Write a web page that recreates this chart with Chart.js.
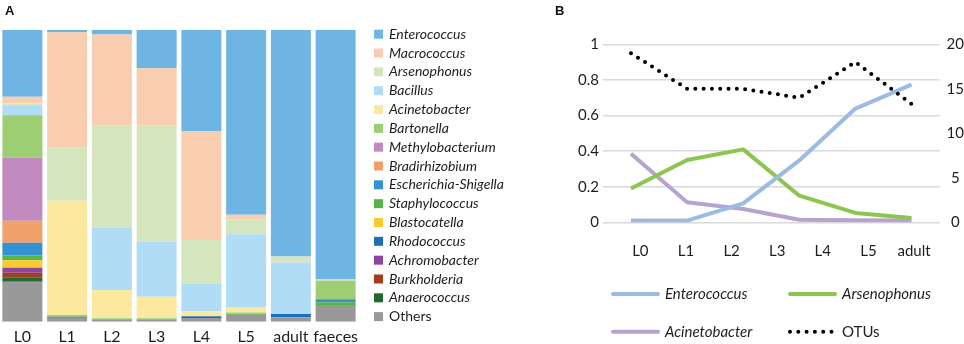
<!DOCTYPE html>
<html lang="en">
<head>
    <meta charset="UTF-8">
    <title>Microbiota by stage</title>
    <script src="https://cdn.jsdelivr.net/npm/chart.js"></script>
    <style>
        body { margin: 0; background: #fff; }
        #wrap { position: relative; width: 964px; height: 344px; }
        canvas { position: absolute; top: 0; }
        .tag { position: absolute; top: 3px; font: bold 13px "Liberation Sans", Arial, sans-serif; color: #111; z-index: 2; }
    </style>
</head>
<body>
    <div id="wrap">
        <canvas id="chartA" width="560" height="344" style="left:0"></canvas>
        <canvas id="chartB" width="404" height="344" style="left:560px"></canvas>
        <div class="tag" style="left:5px">A</div>
        <div class="tag" style="left:555px">B</div>
    </div>

    <script>
        // ---- panel A: relative abundance (%) per stage ----
        const stagesA = ['L0', 'L1', 'L2', 'L3', 'L4', 'L5', 'adult', 'faeces'];

        const enterococcus     = [22.9, 0.8, 1.5, 13.1, 34.6, 63.3, 77.6, 85.5];
        const macrococcus      = [2.3, 39.4, 31.3, 19.7, 37.4, 1.6, 0, 0];
        const arsenophonus     = [0.6, 18.3, 34.9, 39.7, 14.9, 5.1, 2.1, 0.4];
        const bacillus         = [3.4, 0, 21.4, 18.9, 9.5, 25.1, 17.6, 0];
        const acinetobacter    = [0, 39.2, 9.7, 7.4, 1.7, 1.7, 0, 0];
        const bartonella       = [14.5, 0.6, 0.35, 0.35, 0, 0.5, 0, 6.4];
        const methylobacterium = [21.7, 0, 0, 0, 0, 0, 0, 0];
        const bradyrhizobium   = [7.5, 0, 0, 0, 0, 0, 0, 0];
        const escherichia      = [4.3, 0, 0, 0, 0, 0, 0, 1.0];
        const staphylococcus   = [1.7, 0, 0, 0, 0, 0.3, 0, 0.9];
        const blastocatella    = [2.6, 0, 0, 0, 0, 0, 0, 0];
        const rhodococcus      = [0, 0.3, 0, 0, 0.6, 0, 1.1, 0];
        const achromobacter    = [1.7, 0, 0, 0, 0, 0, 0, 0];
        const burkholderia     = [1.7, 0, 0, 0, 0, 0, 0, 0];
        const anaerococcus     = [1.4, 0, 0, 0, 0, 0, 0, 0];
        const others           = [13.7, 1.4, 0.85, 0.85, 1.3, 2.4, 1.6, 5.8];

        // ---- panel B: proportions (left axis) and OTU count (right axis) ----
        const stagesB = ['L0', 'L1', 'L2', 'L3', 'L4', 'L5', 'adult'];
        const enterococcusB  = [0.01, 0.01, 0.107, 0.348, 0.639, 0.774];
        const arsenophonusB  = [0.19, 0.35, 0.41, 0.15, 0.053, 0.025];
        const acinetobacterB = [0.386, 0.113, 0.075, 0.015, 0.012, 0.01];
        const otus           = [19, 15, 15, 14, 18, 13.3];

        const FONT = 'Lato, "Open Sans", sans-serif';
        const INK = '#1e1e1e';

        // legend order top to bottom = stack order top to bottom
        const taxa = [
            ['Enterococcus', enterococcus, '#6eb5e4'],
            ['Macrococcus', macrococcus, '#f8cdb0'],
            ['Arsenophonus', arsenophonus, '#d5e6be'],
            ['Bacillus', bacillus, '#b0dcf5'],
            ['Acinetobacter', acinetobacter, '#fbe9a0'],
            ['Bartonella', bartonella, '#9ece74'],
            ['Methylobacterium', methylobacterium, '#c08abe'],
            ['Bradirhizobium', bradyrhizobium, '#f0a169'],
            ['Escherichia-Shigella', escherichia, '#3492d2'],
            ['Staphylococcus', staphylococcus, '#54b646'],
            ['Blastocatella', blastocatella, '#f7cb2f'],
            ['Rhodococcus', rhodococcus, '#1e6ebe'],
            ['Achromobacter', achromobacter, '#8c46a0'],
            ['Burkholderia', burkholderia, '#a03e1e'],
            ['Anaerococcus', anaerococcus, '#226930'],
            ['Others', others, '#999999']
        ];

        // square-box legend to the right of the bars, "Others" upright
        const sideLegend = {
            id: 'sideLegend',
            afterDraw(chart) {
                const ctx = chart.ctx;
                const x = chart.chartArea.right + 16;
                const items = chart.data.datasets.slice().reverse();
                ctx.save();
                ctx.textBaseline = 'middle';
                items.forEach((ds, i) => {
                    const y = chart.chartArea.top + 4.2 + i * 18.83;
                    ctx.fillStyle = ds.backgroundColor;
                    ctx.fillRect(x, y - 4.5, 9, 9);
                    ctx.font = (ds.label === 'Others' ? '' : 'italic ') + '14px ' + FONT;
                    ctx.fillStyle = INK;
                    ctx.fillText(ds.label, x + 15, y);
                });
                ctx.restore();
            }
        };

        new Chart(document.getElementById('chartA'), {
            type: 'bar',
            data: {
                labels: stagesA,
                datasets: taxa.slice().reverse().map(t => ({
                    label: t[0],
                    data: t[1],
                    backgroundColor: t[2],
                    borderWidth: 0
                }))
            },
            options: {
                responsive: false,
                animation: false,
                // axis height = label line + 2 * padding, so pull the bottom edge down a bit
                layout: { padding: { top: 30, right: 202, left: 0, bottom: -8.2 } },
                datasets: { bar: { barPercentage: 0.894, categoryPercentage: 1 } },
                plugins: { legend: { display: false }, tooltip: { enabled: false } },
                scales: {
                    x: {
                        stacked: true,
                        grid: { display: false, drawTicks: false },
                        border: { display: false },
                        ticks: { padding: 5.6, maxRotation: 0, autoSkip: false, color: INK, font: { family: FONT, size: 16 } }
                    },
                    y: { stacked: true, display: false, min: 0, max: 100 }
                }
            },
            plugins: [sideLegend]
        });

        // two-column line legend under panel B
        const bottomLegend = {
            id: 'bottomLegend',
            afterDraw(chart) {
                const ctx = chart.ctx;
                ctx.save();
                ctx.textBaseline = 'middle';
                chart.data.datasets.forEach((ds, i) => {
                    const x = 53 + (i % 2) * 177;
                    const y = 294 + Math.floor(i / 2) * 37.7;
                    ctx.beginPath();
                    ctx.setLineDash(ds.borderDash || []);
                    ctx.lineCap = 'round';
                    ctx.lineWidth = ds.borderWidth;
                    ctx.strokeStyle = ds.borderColor;
                    ctx.moveTo(x, y);
                    ctx.lineTo(x + 45, y);
                    ctx.stroke();
                    ctx.setLineDash([]);
                    ctx.font = (ds.label === 'OTUs' ? '' : 'italic ') + '15px ' + FONT;
                    ctx.fillStyle = INK;
                    ctx.fillText(ds.label, x + 52, y);
                });
                ctx.restore();
            }
        };

        const lineStyle = { borderWidth: 4, pointRadius: 0, tension: 0, borderJoinStyle: 'round', fill: false };

        new Chart(document.getElementById('chartB'), {
            type: 'line',
            data: {
                labels: enterococcusB.map((v, i) => i),
                datasets: [
                    { label: 'Enterococcus', data: enterococcusB, borderColor: '#9bbbe3', yAxisID: 'y', ...lineStyle },
                    { label: 'Arsenophonus', data: arsenophonusB, borderColor: '#8cc650', yAxisID: 'y', ...lineStyle },
                    { label: 'Acinetobacter', data: acinetobacterB, borderColor: '#b6a3ce', yAxisID: 'y', ...lineStyle },
                    { label: 'OTUs', data: otus, borderColor: '#000000', yAxisID: 'y2', order: -1,
                      borderDash: [0, 8.3], borderCapStyle: 'round', ...lineStyle }
                ]
            },
            options: {
                responsive: false,
                animation: false,
                layout: { padding: { top: 44.3, right: -7, left: 14, bottom: 63.6 } },
                plugins: { legend: { display: false }, tooltip: { enabled: false } },
                scales: {
                    x: { type: 'category', offset: true, display: false },
                    stage: {
                        type: 'linear',
                        position: 'bottom',
                        min: -0.82,
                        max: 6.56,
                        grid: { display: false, drawTicks: false },
                        border: { display: false },
                        afterBuildTicks: s => { s.ticks = stagesB.map((v, i) => ({ value: i })); },
                        ticks: {
                            padding: 20, autoSkip: false, maxRotation: 0,
                            callback: v => stagesB[v],
                            color: INK, font: { family: FONT, size: 15 }
                        }
                    },
                    y: {
                        position: 'left',
                        min: 0, max: 1,
                        grid: { color: '#d9d9d9', lineWidth: 1.5, drawTicks: false },
                        border: { display: false },
                        ticks: { stepSize: 0.2, padding: 4, callback: v => +v.toFixed(2), color: INK, font: { family: FONT, size: 15 } }
                    },
                    y2: {
                        position: 'right',
                        min: 0, max: 20,
                        grid: { display: false, drawTicks: false },
                        border: { display: false },
                        ticks: { stepSize: 5, padding: 7, crossAlign: 'center', color: INK, font: { family: FONT, size: 15 } }
                    }
                }
            },
            plugins: [bottomLegend]
        });
    </script>
</body>
</html>
